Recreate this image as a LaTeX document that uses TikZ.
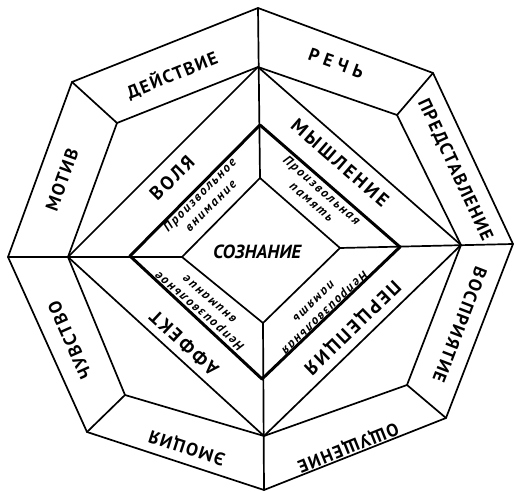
\documentclass[tikz,border=0pt]{standalone}
\usepackage{fontspec}
\setmainfont{PT Sans}
\usepackage{tikz}

\begin{document}
\begin{tikzpicture}[
  x=1pt, y=1pt,
  ln/.style={line width=1.7pt, line join=round, line cap=round},
  thk/.style={line width=3pt, line join=round, line cap=round},
  outer/.style={font=\fontsize{18}{18}\selectfont\bfseries\addfontfeatures{LetterSpace=8}, inner sep=0pt},
  mid/.style={font=\fontsize{19}{19}\selectfont\bfseries\addfontfeatures{LetterSpace=14}, inner sep=0pt},
  inn/.style={font=\fontsize{13}{15.5}\selectfont\bfseries\itshape\addfontfeatures{LetterSpace=14}, align=center, inner sep=0pt}
]
\useasboundingbox (0,0) rectangle (514,492);

%% ---- corner points ----
% outer octagon
\coordinate (ot)  at (258,484);
\coordinate (our) at (433,419);
\coordinate (or)  at (513,248);
\coordinate (olr) at (446,74);
\coordinate (ob)  at (264,2);
\coordinate (oll) at (87,60);
\coordinate (ol)  at (8,235);
\coordinate (oul) at (72,410);
% middle octagon
\coordinate (mt)  at (258,425);
\coordinate (mur) at (397,377);
\coordinate (mr)  at (461,247);
\coordinate (mlr) at (407,107);
\coordinate (mb)  at (264,56);
\coordinate (mll) at (125,97);
\coordinate (ml)  at (68,235);
\coordinate (mul) at (117,369);
% diamonds
\coordinate (dt) at (260,367);
\coordinate (dr) at (400,245);
\coordinate (db) at (262,113);
\coordinate (dl) at (130,236);
\coordinate (it) at (260,314);
\coordinate (ir) at (340,244);
\coordinate (ib) at (263,169);
\coordinate (il) at (182,235);

%% ---- lines ----
\draw[ln] (ot)--(our)--(or)--(olr)--(ob)--(oll)--(ol)--(oul)--cycle;
\draw[ln] (mt)--(mur)--(mr)--(mlr)--(mb)--(mll)--(ml)--(mul)--cycle;
\draw[ln] (oul)--(mul) (our)--(mur) (olr)--(mlr) (oll)--(mll);
\draw[ln] (ot)--(it) (or)--(ir) (ob)--(ib) (ol)--(il);
\draw[ln] (mt)--(mr)--(mb)--(ml)--cycle;
\draw[thk] (dt)--(dr)--(db)--(dl)--cycle;
\draw[ln] (it)--(ir)--(ib)--(il)--cycle;

%% ---- outer ring ----
\node[outer, rotate=22]   (deistvie) at (172,417) {ДЕЙСТВИЕ};
\node[outer, rotate=-20, font=\fontsize{18}{18}\selectfont\bfseries\addfontfeatures{LetterSpace=30}] (rech) at (336,429) {РЕЧЬ};
\node[outer, rotate=-65]  (predst)   at (455,322) {ПРЕДСТАВЛЕНИЕ};
\node[outer, rotate=-111] (vospr)    at (460,167) {ВОСПРИЯТИЕ};
\node[outer, rotate=-158] (oshch)    at (348,45)  {ОЩУЩЕНИЕ};
\node[outer, rotate=162]  (emoc)     at (187,45)  {ЭМОЦИЯ};
\node[outer, rotate=114]  (chuvstvo) at (70,152)  {ЧУВСТВО};
\node[outer, rotate=70]   (motiv)    at (62,312)  {МОТИВ};

%% ---- middle ring ----
\node[mid, rotate=45]   (volya)  at (172,314) {ВОЛЯ};
\node[mid, rotate=-41]  (myshl)  at (340,329) {МЫШЛЕНИЕ};
\node[mid, rotate=-136] (perc)   at (352,165) {ПЕРЦЕПЦИЯ};
\node[mid, rotate=137]  (affekt) at (184,149) {АФФЕКТ};

%% ---- inner ring ----
\node[inn, rotate=45]   (pvn)  at (205,292) {Произвольное\\внимание};
\node[inn, rotate=-41]  (ppam) at (317,296) {Произвольная\\память};
\node[inn, rotate=-136] (npam) at (320,184) {Непроизвольная\\память};
\node[inn, rotate=139]  (nvn)  at (204,186) {Непроизвольное\\внимание};

%% ---- centre ----
\node[font=\fontsize{19}{19}\selectfont\bfseries\itshape, inner sep=0pt] (soznanie) at (257,240) {СОЗНАНИЕ};

\end{tikzpicture}
\end{document}
